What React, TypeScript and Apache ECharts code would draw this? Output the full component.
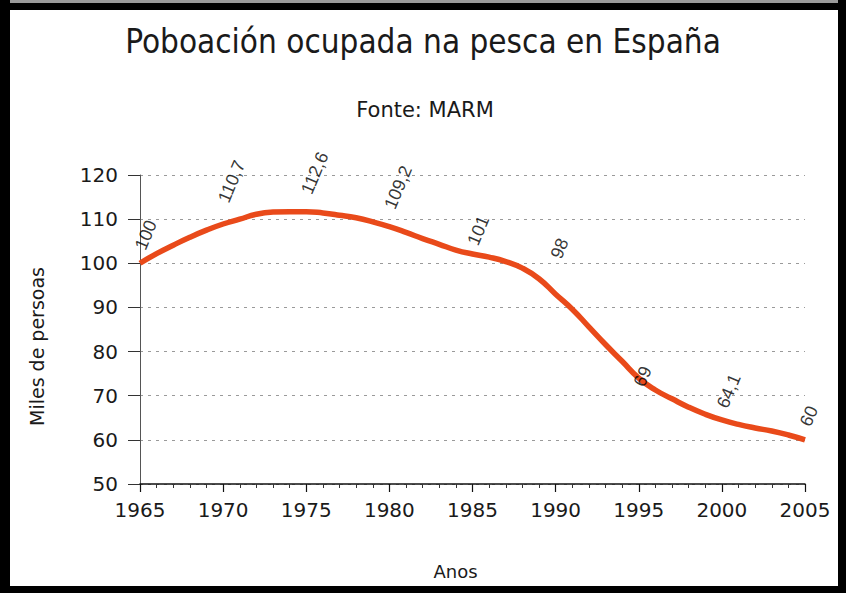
import React, { useEffect, useRef } from "react";
import * as echarts from "echarts";

// Curve as drawn (yearly)
const curveYears = [
  1965, 1966, 1967, 1968, 1969, 1970, 1971, 1972, 1973, 1974, 1975, 1976, 1977, 1978,
  1979, 1980, 1981, 1982, 1983, 1984, 1985, 1986, 1987, 1988, 1989, 1990, 1991, 1992,
  1993, 1994, 1995, 1996, 1997, 1998, 1999, 2000, 2001, 2002, 2003, 2004, 2005,
];
const curveValues = [
  100, 102.2, 104.1, 105.9, 107.5, 108.9, 110.0, 111.1, 111.6, 111.7, 111.7, 111.4, 110.9, 110.3,
  109.4, 108.3, 107.0, 105.6, 104.3, 103.0, 102.1, 101.4, 100.4, 98.9, 96.5, 93.0, 89.6, 85.6,
  81.6, 77.8, 74.0, 71.3, 69.3, 67.4, 65.8, 64.5, 63.5, 62.7, 62.0, 61.1, 60.0,
];

// Labelled values
const labelYears = [1965, 1970, 1975, 1980, 1985, 1990, 1995, 2000, 2005];
const labelValues = [100, 110.7, 112.6, 109.2, 101, 98, 69, 64.1, 60];

const yTicks = [50, 60, 70, 80, 90, 100, 110, 120];
const xTicks = [1965, 1970, 1975, 1980, 1985, 1990, 1995, 2000, 2005];

const TITLE = "Poboación ocupada na pesca en España";
const SUBTITLE = "Fonte: MARM";
const Y_NAME = "Miles de persoas";
const X_NAME = "Anos";

export default function App() {
  const ref = useRef<HTMLDivElement>(null);

  useEffect(() => {
    document.body.style.margin = "0";
    if (!ref.current) return;
    const chart = echarts.init(ref.current, null, { renderer: "svg" });
    const font = "DejaVu Sans";
    chart.setOption({
      animation: false,
      backgroundColor: "#ffffff",
      title: [
        {
          text: TITLE,
          left: 418,
          top: 20,
          textAlign: "center",
          textStyle: { fontFamily: "DejaVu Sans Condensed, DejaVu Sans", fontSize: 33, fontWeight: "normal", color: "#1a1a1a" },
        },
        {
          text: SUBTITLE,
          left: 420,
          top: 94,
          textAlign: "center",
          textStyle: { fontFamily: font, fontSize: 21, fontWeight: "normal", color: "#1a1a1a" },
        },
      ],
      grid: { left: 140, right: 41, top: 175, bottom: 109, containLabel: false },
      xAxis: {
        type: "value",
        min: xTicks[0],
        max: xTicks[xTicks.length - 1],
        interval: 5,
        name: X_NAME,
        nameLocation: "middle",
        nameGap: 78,
        nameTextStyle: { fontFamily: font, fontSize: 18, color: "#1a1a1a", padding: [0, 34, 0, 0] },
        axisLine: { show: true, lineStyle: { color: "#111", width: 1.5 } },
        axisTick: { show: true, length: 8, lineStyle: { color: "#111", width: 1.2 } },
        minorTick: { show: true, splitNumber: 5, length: 4, lineStyle: { color: "#333" } },
        axisLabel: {
          fontFamily: font,
          fontSize: 20,
          color: "#1a1a1a",
          margin: 16,
          formatter: (v: number) => String(v),
        },
        splitLine: { show: false },
      },
      yAxis: {
        type: "value",
        min: yTicks[0],
        max: yTicks[yTicks.length - 1],
        interval: 10,
        name: Y_NAME,
        nameLocation: "middle",
        nameGap: 94,
        nameRotate: 90,
        nameTextStyle: { fontFamily: font, fontSize: 19, color: "#1a1a1a", padding: [0, 34, 0, 0] },
        axisLine: { show: true, lineStyle: { color: "#555", width: 1 } },
        axisTick: { show: true, length: 12, lineStyle: { color: "#333", width: 1 } },
        axisLabel: { fontFamily: font, fontSize: 20, color: "#1a1a1a", margin: 22 },
        splitLine: { show: true, lineStyle: { color: "#9a9a9a", type: [3, 5], width: 1 } },
      },
      series: [
        {
          type: "line",
          data: curveYears.map((y, i) => [y, curveValues[i]]),
          smooth: true,
          showSymbol: false,
          lineStyle: { color: "#e94a1a", width: 5.5 },
          itemStyle: { color: "#e94a1a" },
          z: 3,
        },
        {
          type: "scatter",
          data: labelYears.map((y, i) => [y, labelValues[i]]),
          symbolSize: 1,
          itemStyle: { color: "rgba(0,0,0,0)" },
          label: {
            show: true,
            position: "top",
            distance: 14,
            rotate: 67,
            align: "left",
            verticalAlign: "middle",
            fontFamily: "Liberation Sans, Arial",
            fontSize: 18,
            color: "#000",
            formatter: (p: any) => String(p.value[1]).replace(".", ","),
          },
          z: 4,
        },
      ],
      graphic: [
        { type: "rect", shape: { x: 0, y: 0, width: 846, height: 3 }, style: { fill: "#9a9a9a" }, z: 100 },
        { type: "rect", shape: { x: 0, y: 3, width: 846, height: 7 }, style: { fill: "#000" }, z: 100 },
        { type: "rect", shape: { x: 0, y: 0, width: 10, height: 593 }, style: { fill: "#000" }, z: 100 },
        { type: "rect", shape: { x: 838, y: 0, width: 8, height: 593 }, style: { fill: "#000" }, z: 100 },
        { type: "rect", shape: { x: 0, y: 586, width: 846, height: 7 }, style: { fill: "#000" }, z: 100 },
      ],
    });
    return () => chart.dispose();
  }, []);

  return <div ref={ref} style={{ width: 846, height: 593 }} />;
}
